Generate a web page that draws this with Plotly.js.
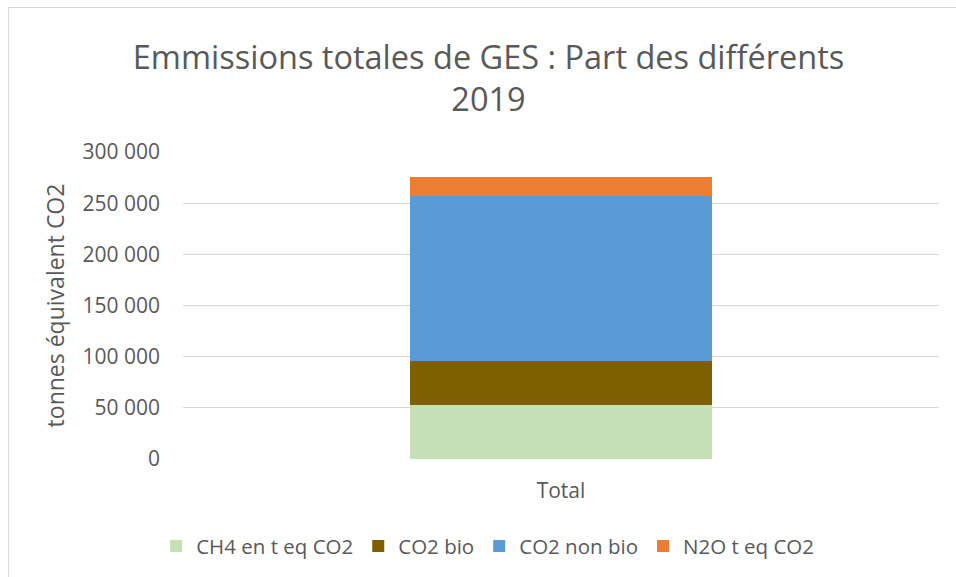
<!DOCTYPE html>
<html><head><meta charset="utf-8">
<script src="https://cdn.plot.ly/plotly-3.0.1.min.js"></script>
<style>
html,body{margin:0;padding:0;background:#fff;}
#frame{position:absolute;left:8px;top:7px;width:980px;height:600px;border:1px solid #d9d9d9;box-sizing:border-box;pointer-events:none;}
#chart{position:absolute;left:0;top:0;width:956px;height:577px;}
</style></head>
<body>
<div id="frame"></div>
<div id="chart"></div>
<script>
const categories = ["Total"];
const seriesNames = ["CH4 en t eq CO2", "CO2 bio", "CO2 non bio", "N2O t eq CO2"];
const ch4 = [52800];
const co2Bio = [42800];
const co2NonBio = [161600];
const n2o = [18100];
const yTickVals = [0, 50000, 100000, 150000, 200000, 250000, 300000];
const yTickText = ["0", "50 000", "100 000", "150 000", "200 000", "250 000", "300 000"];
const colors = ["#c5e0b4", "#7f6000", "#5b9bd5", "#ed7d31"];
const values = [ch4, co2Bio, co2NonBio, n2o];

const font = "Open Sans, sans-serif";
const traces = values.map((v, i) => ({
  type: "bar", x: categories, y: v, name: seriesNames[i],
  marker: {color: colors[i], line: {width: 0}}, hoverinfo: "y+name"
}));

const layout = {
  width: 956, height: 577,
  paper_bgcolor: "rgba(0,0,0,0)", plot_bgcolor: "rgba(0,0,0,0)",
  margin: {l: 183, r: 17, t: 152, b: 117},
  barmode: "stack", bargap: 0.6,
  font: {family: font, color: "#595959"},
  title: {text: "Emmissions totales de GES : Part des différents<br>2019",
    font: {size: 32.5, color: "#595959", family: font},
    x: 0.511, xanchor: "center", xref: "container", y: 0.88, yanchor: "middle", yref: "container"},
  xaxis: {type: "category", showgrid: false, showline: false, ticks: "", zeroline: false,
    tickfont: {size: 21, color: "#595959"}, ticklabelstandoff: 17},
  yaxis: {range: [0, 300000], tickvals: yTickVals, ticktext: yTickText,
    showgrid: true, gridcolor: "#d9d9d9", gridwidth: 1, zeroline: false, showline: false,
    ticks: "", ticklen: 0, tickfont: {size: 21, color: "#595959"}, ticklabelstandoff: 22,
    title: {text: "tonnes équivalent CO2", font: {size: 23, color: "#595959"}, standoff: 11}},
  showlegend: true,
  legend: {orientation: "h", x: 0.403, xanchor: "center", y: -0.28, yanchor: "middle",
    yref: "paper", font: {size: 20.5, color: "#595959"}, traceorder: "normal", itemwidth: 30}
};
Plotly.newPlot("chart", traces, layout, {displayModeBar: false, staticPlot: false});
</script>
</body></html>
